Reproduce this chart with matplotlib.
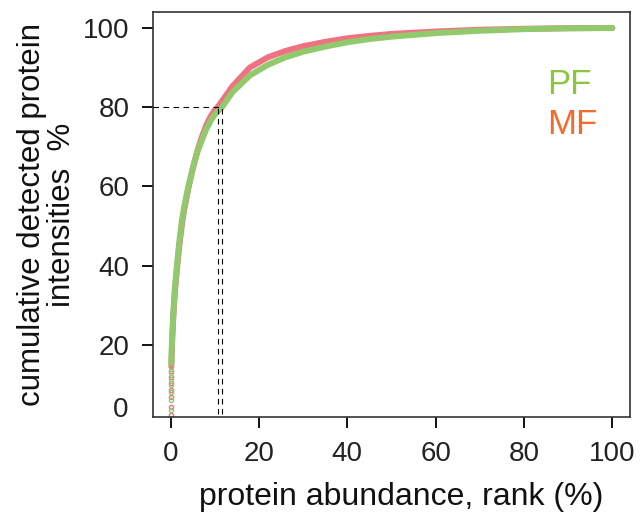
import matplotlib
matplotlib.use('Agg')
import matplotlib.pyplot as plt

plt.rcParams['font.family'] = ['Liberation Sans', 'DejaVu Sans']
plt.rcParams['xtick.bottom'] = True
plt.rcParams['ytick.left'] = True

# discrete points at the very start (top ranked proteins)
pf_dot_x = [0.02, 0.04, 0.06, 0.08, 0.10, 0.12, 0.14]
pf_dot_y = [3.5, 6.0, 8.0, 9.8, 11.5, 13.0, 14.5]
mf_dot_x = [0.02, 0.04, 0.06, 0.08, 0.10, 0.12, 0.14]
mf_dot_y = [2.4, 4.4, 6.8, 8.6, 10.3, 12.0, 13.5]

# rank (%) vs cumulative intensity (%)
pf_x = [0.15, 0.3, 0.5, 0.75, 1, 1.5, 2, 2.5, 3, 4, 5, 6, 7, 8, 9, 10, 11.6,
        14, 17.9, 22, 26, 30, 35, 40, 45, 50, 60, 70, 80, 90, 100]
pf_y = [15.5, 21, 26, 31, 35, 41, 46.5, 51, 54.5, 60, 64.5, 68.5, 71.5, 74.3, 76.5, 78.2, 80,
        83.8, 88, 90.7, 92.6, 94, 95.3, 96.4, 97.2, 97.8, 98.7, 99.3, 99.7, 99.9, 100]
mf_x = [0.15, 0.3, 0.5, 0.75, 1, 1.5, 2, 2.5, 3, 4, 5, 6, 7, 8, 9, 10, 10.7,
        14, 17.9, 22, 26, 30, 35, 40, 45, 50, 60, 70, 80, 90, 100]
mf_y = [14.5, 20, 25, 30, 34, 40, 45.5, 50, 53.8, 59.5, 64.5, 68.8, 72.3, 75.3, 77.6, 79.3, 80.1,
        85.3, 90, 92.6, 94.2, 95.4, 96.5, 97.4, 98.0, 98.5, 99.1, 99.55, 99.8, 99.95, 100]

x_ticks = [0, 20, 40, 60, 80, 100]
y_ticks = [20, 40, 60, 80, 100]

# rank where 80 % of intensity is reached
cut_mf = 10.7
cut_pf = 11.6

red = '#f07282'
green = '#92c96c'

fig = plt.figure(figsize=(6.44, 5.18), dpi=100)
ax = fig.add_axes([0.2376, 0.195, 0.7407, 0.7819])

ax.plot(mf_x, mf_y, color=red, lw=4.3, solid_capstyle='round', zorder=2)
ax.plot(mf_dot_x, mf_dot_y, 'o', mfc='none', mec=red, ms=3, mew=1, zorder=2)
ax.plot(pf_x, pf_y, color=green, lw=4.3, solid_capstyle='round', zorder=3)
ax.plot(pf_dot_x, pf_dot_y, 'o', mfc='none', mec=green, ms=3, mew=1, zorder=3)

ax.plot([-4, cut_pf], [80, 80], color='k', lw=0.8, dashes=(5, 4), zorder=4)
ax.plot([cut_mf, cut_mf], [0, 80], color='k', lw=0.8, dashes=(5, 4), zorder=4)
ax.plot([cut_pf, cut_pf], [0, 80], color='k', lw=0.8, dashes=(5, 4), zorder=4)

ax.set_xlim(-4, 104)
ax.set_ylim(1.8, 104.04)
ax.set_xticks(x_ticks)
ax.set_yticks(y_ticks)
ax.tick_params(bottom=True, left=True, direction='out', length=8, width=1.4, color='#111111',
               labelsize=20, labelcolor='#222222', pad=9)
ax.text(-0.0524, 3.5, '0', transform=ax.get_yaxis_transform(), ha='right', va='center',
        fontsize=20, color='#222222')
for s in ax.spines.values():
    s.set_linewidth(1.2)
    s.set_color('#333333')

ax.set_xlabel('protein abundance, rank (%)', fontsize=23, color='#111111')
ax.xaxis.set_label_coords(0.52, -0.16)
ax.set_ylabel('cumulative detected protein\nintensities  %', fontsize=22.5, color='#111111',
              linespacing=1.0)
ax.yaxis.set_label_coords(-0.16, 0.5)

ax.text(0.826, 0.821, 'PF', transform=ax.transAxes, fontsize=25, color='#8cc63f', va='center')
ax.text(0.826, 0.722, 'MF', transform=ax.transAxes, fontsize=25, color='#f26b2a', va='center')

plt.savefig('out.png', dpi=100)
